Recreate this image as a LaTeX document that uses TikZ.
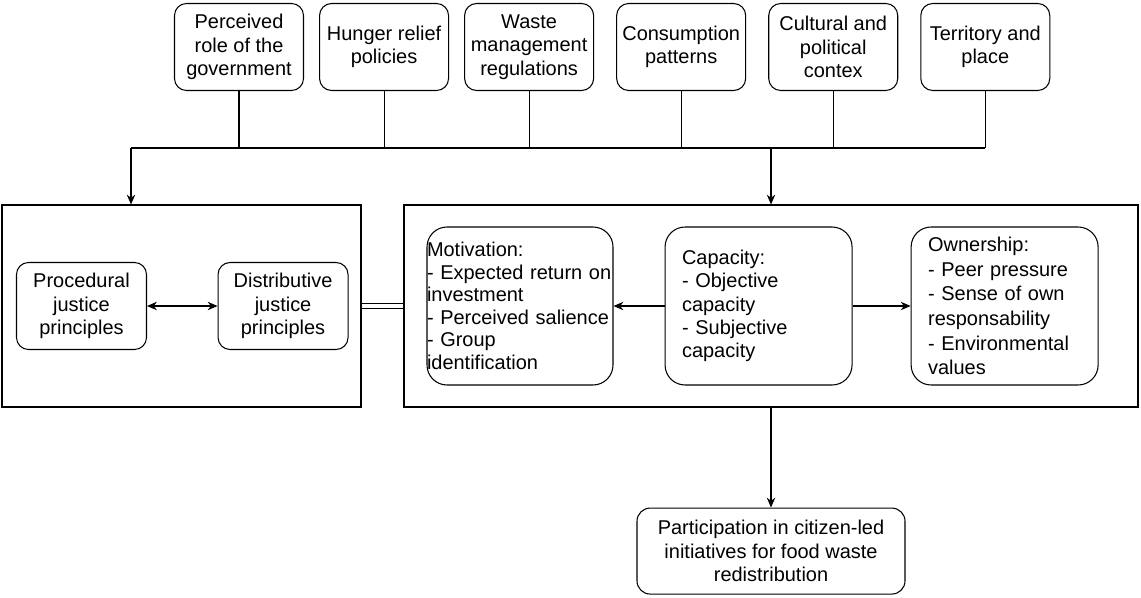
\documentclass[tikz,border=0pt]{standalone}
\usepackage{fontspec}
\setmainfont{Liberation Sans}
\usetikzlibrary{arrows.meta,positioning}

\begin{document}
\begin{tikzpicture}[>={Stealth[length=7pt,width=6pt]}, line width=0.75pt, font=\fontsize{14.2pt}{16.6pt}\selectfont]
    \useasboundingbox (0,0) rectangle (28.525,-14.925);
    % Styles
    \tikzstyle{factor} = [rectangle, draw, rounded corners=0.3cm, align=center, minimum width=3.225cm, minimum height=2.175cm, inner sep=2pt]
    \tikzstyle{frame} = [rectangle, draw, minimum height=5.05cm]
    \tikzstyle{principle} = [rectangle, draw, rounded corners=0.3cm, align=center, minimum width=3.25cm, minimum height=2.175cm, inner sep=2pt]
    \tikzstyle{driver} = [rectangle, draw, rounded corners=0.5cm, align=left, minimum height=3.95cm, inner xsep=0.425cm, text width=3.825cm]
    \tikzstyle{line} = [draw, ->]

    % Context factors
    \node [factor] at (5.975,-1.175) (gov) {Perceived\\role of the\\government};
    \node [factor, right=0.375cm of gov] (hunger) {Hunger relief\\policies};
    \node [factor, right=0.375cm of hunger] (waste) {Waste\\management\\regulations};
    \node [factor, right=0.55cm of waste] (consumption) {Consumption\\patterns};
    \node [factor, right=0.55cm of consumption] (culture) {Cultural and\\political\\contex};
    \node [factor, right=0.55cm of culture] (place) {Territory and\\place};

    % Frames
    \node [frame, minimum width=8.975cm] at (4.5375,-7.65) (justice) {};
    \node [frame, minimum width=18.35cm] at (19.275,-7.65) (drivers) {};

    % Justice principles
    \node [principle] at (2.0375,-7.65) (procedural) {Procedural\\justice\\principles};
    \node [principle, right=1.7625cm of procedural] (distributive) {Distributive\\justice\\principles};

    % Drivers
    \node [driver, inner xsep=0pt, text width=4.65cm, font=\fontsize{14.2pt}{16pt}\selectfont] at (13.0,-7.65) (motivation) {Motivation:\\- Expected return on\\investment\\- Perceived salience\\- Group\\identification};
    \node [driver, right=1.275cm of motivation] (capacity) {Capacity:\\- Objective\\capacity\\- Subjective\\capacity};
    \node [driver, right=1.45cm of capacity, font=\fontsize{14.2pt}{17.6pt}\selectfont] (ownership) {Ownership:\\- Peer pressure\\- Sense of own\\responsability\\- Environmental\\values};

    % Outcome
    \node [principle, rounded corners=0.33cm, minimum width=6.7cm, minimum height=2.15cm, below=2.5cm of drivers] (participation) {Participation in citizen-led\\initiatives for food waste\\redistribution};

    % Bus from the factors
    \coordinate (bus) at (3.275,-3.7);
    \draw (bus) -- (bus -| place.south);
    \draw (gov.south) -- (gov.south |- bus);
    \draw (hunger.south) -- (hunger.south |- bus);
    \draw (waste.south) -- (waste.south |- bus);
    \draw (consumption.south) -- (consumption.south |- bus);
    \draw (culture.south) -- (culture.south |- bus);
    \draw (place.south) -- (place.south |- bus);
    \path [line] (bus) -- (bus |- justice.north);
    \path [line] (drivers.north |- bus) -- (drivers.north);

    % Edges
    \draw [<->] (procedural) -- (distributive);
    \path [line] (capacity) -- (motivation);
    \path [line] (capacity) -- (ownership);
    \draw [double, double distance=2.8pt, line width=0.7pt] (justice.east) -- (drivers.west);
    \path [line] (drivers.south) -- (participation.north);

\end{tikzpicture}
\end{document}
